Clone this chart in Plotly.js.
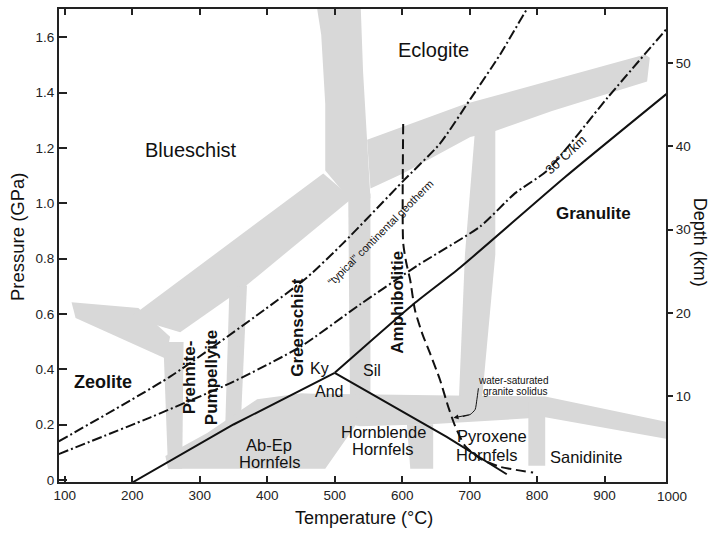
<!DOCTYPE html>
<html>
<head>
<meta charset="utf-8">
<script src="https://cdn.plot.ly/plotly-3.0.1.min.js"></script>
<style>html,body{margin:0;padding:0;background:#fff;}#chart{width:714px;height:534px;}</style>
</head>
<body>
<div id="chart"></div>
<script>
// ---- Axis ticks ----
const tempTicks = [100, 200, 300, 400, 500, 600, 700, 800, 900];
const pressureTicks = [0, 0.2, 0.4, 0.6, 0.8, 1.0, 1.2, 1.4, 1.6];
const pressureTickText = ['0', '0.2', '0.4', '0.6', '0.8', '1.0', '1.2', '1.4', '1.6'];
const depthTicks = [10, 20, 30, 40, 50];

// ---- Gray facies-boundary bands: outlines in T (°C) and P (GPa) ----
const bandZeoliteArmT = [110, 209, 256, 250, 116];
const bandZeoliteArmP = [0.642, 0.621, 0.517, 0.438, 0.585];
const bandZeoliteStemT = [246, 276, 274, 253];
const bandZeoliteStemP = [0.498, 0.498, 0.040, 0.040];
const bandBlueschistT = [197, 483, 526, 369, 345, 271];
const bandBlueschistP = [0.588, 1.108, 1.018, 0.703, 0.660, 0.534];
const bandPrehniteT = [344, 370, 361, 338];
const bandPrehniteP = [0.696, 0.703, 0.212, 0.212];
const bandEclogiteVT = [471, 538, 542, 548, 553, 523, 486, 486, 480];
const bandEclogiteVP = [1.75, 1.75, 1.478, 1.234, 1.018, 1.011, 1.119, 1.359, 1.610];
const bandGreenschistT = [520, 553, 553, 523];
const bandGreenschistP = [1.036, 1.036, 0.201, 0.201];
const bandEclogiteDT = [548, 693, 960, 967, 963, 822, 738, 701, 601, 553];
const bandEclogiteDP = [1.230, 1.359, 1.538, 1.527, 1.441, 1.334, 1.262, 1.240, 1.108, 1.054];
const bandAmphiboliteT = [708, 738, 738, 716, 683, 693];
const bandAmphiboliteP = [1.266, 1.266, 0.814, 0.230, 0.230, 0.814];
const bandHornfelsHT = [449, 812, 995, 995, 812, 641, 538, 449];
const bandHornfelsHP = [0.312, 0.301, 0.208, 0.147, 0.226, 0.201, 0.194, 0.230];
const bandHornfelsDT = [249, 311, 385, 449, 538, 530, 486, 253];
const bandHornfelsDP = [0.086, 0.169, 0.291, 0.312, 0.301, 0.194, 0.040, 0.040];
const bandHornblendeT = [607, 646, 646, 612];
const bandHornblendeP = [0.201, 0.201, 0.040, 0.040];
const bandSanidiniteT = [787, 812, 812, 787];
const bandSanidiniteP = [0.284, 0.284, 0.051, 0.051];

// ---- Reaction / facies lines ----
const abEpLineT = [200, 350, 500];
const abEpLineP = [-0.01, 0.200, 0.387];
const kySilT = [500, 538, 617, 686, 842, 1000];
const kySilP = [0.387, 0.469, 0.636, 0.768, 1.096, 1.412];
const andSilT = [500, 666, 755];
const andSilP = [0.387, 0.155, 0.020];

// "typical" continental geotherm
const geothermT = [91, 256, 397, 459, 513, 602, 656, 701, 745, 784, 790];
const geothermP = [0.139, 0.373, 0.617, 0.732, 0.857, 1.082, 1.216, 1.377, 1.538, 1.699, 1.72];
// 30 °C/km geotherm
const grad30T = [91, 227, 350, 449, 538, 622, 716, 767, 815, 905, 995];
const grad30P = [0.093, 0.226, 0.355, 0.481, 0.635, 0.774, 0.917, 1.036, 1.119, 1.384, 1.64];
// water-saturated granite solidus
const solidusT = [601.5, 601.5, 606, 612, 619, 630, 641.5, 656, 668, 678.5, 693, 716, 745, 794];
const solidusP = [1.287, 0.857, 0.786, 0.721, 0.613, 0.527, 0.456, 0.362, 0.266, 0.194, 0.123, 0.076, 0.047, 0.026];
// label leader
const leaderT = [713, 710.7, 708.1, 700.7, 690];
const leaderP = [0.331, 0.290, 0.254, 0.236, 0.229];

const GRAY = '#d8d8d8';
const INK = '#111111';
const FONT = 'Liberation Sans, Arial, Helvetica, sans-serif';

function band(t, p) {
  return {x: t, y: p, type: 'scatter', mode: 'lines', fill: 'toself',
          fillcolor: GRAY, line: {width: 0, color: GRAY}, hoverinfo: 'skip', showlegend: false};
}
function line(t, p, dash, w, shape) {
  return {x: t, y: p, type: 'scatter', mode: 'lines', hoverinfo: 'skip', showlegend: false,
          line: {color: INK, width: w, dash: dash, shape: shape || 'linear', smoothing: 0.6}};
}

const traces = [
  band(bandZeoliteArmT, bandZeoliteArmP),
  band(bandZeoliteStemT, bandZeoliteStemP),
  band(bandBlueschistT, bandBlueschistP),
  band(bandPrehniteT, bandPrehniteP),
  band(bandEclogiteVT, bandEclogiteVP),
  band(bandGreenschistT, bandGreenschistP),
  band(bandEclogiteDT, bandEclogiteDP),
  band(bandAmphiboliteT, bandAmphiboliteP),
  band(bandHornfelsHT, bandHornfelsHP),
  band(bandHornfelsDT, bandHornfelsDP),
  band(bandHornblendeT, bandHornblendeP),
  band(bandSanidiniteT, bandSanidiniteP),
  line(abEpLineT, abEpLineP, 'solid', 2),
  line(kySilT, kySilP, 'solid', 2, 'spline'),
  line(andSilT, andSilP, 'solid', 2),
  line(geothermT, geothermP, '10px,3px,2px,3px', 2, 'spline'),
  line(grad30T, grad30P, '10px,3px,2px,3px', 2, 'spline'),
  line(solidusT, solidusP, '10px,5px', 2, 'spline'),
  line(leaderT, leaderP, 'solid', 1, 'spline'),
  {x: [null], y: [null], yaxis: 'y2', type: 'scatter', mode: 'lines', showlegend: false, hoverinfo: 'skip'}
];

function lab(text, x, y, size, bold, angle) {
  return {text: bold ? '<b>' + text + '</b>' : text, x: x, y: y, xref: 'x', yref: 'y',
          xanchor: 'center', yanchor: 'middle',
          showarrow: false, textangle: angle || 0,
          font: {family: FONT, size: size, color: INK}};
}
function paperText(text, x, y, size, angle, extra) {
  return Object.assign({text: text, xref: 'paper', yref: 'paper', x: x, y: y,
          xanchor: 'center', yanchor: 'middle', textangle: angle || 0, showarrow: false,
          font: {family: FONT, size: size, color: INK}}, extra || {});
}

const annotations = [
  lab('Eclogite', 647, 1.556, 20),
  lab('Blueschist', 287, 1.194, 20),
  lab('Granulite', 883, 0.962, 17, true),
  lab('Zeolite', 157, 0.353, 18, true),
  lab('Prehnite-<br>Pumpellyite', 301, 0.369, 17, true, -90),
  lab('Greenschist', 445, 0.552, 17, true, -90),
  lab('Amphibolitie', 593, 0.642, 17, true, -90),
  lab('Ky', 477, 0.402, 16),
  lab('And', 492, 0.319, 16),
  lab('Sil', 556, 0.395, 16),
  lab('Ab-Ep', 403, 0.126, 16.5),
  lab('Hornfels', 403, 0.063, 16.5),
  lab('Hornblende', 572.6, 0.174, 16.5),
  lab('Hornfels', 571, 0.110, 16.5),
  lab('Pyroxene', 733, 0.158, 16.5),
  lab('Hornfels', 725.5, 0.088, 16.5),
  lab('Sanidinite', 872.6, 0.081, 16.5),
  lab('water-saturated', 763.7, 0.360, 10),
  lab('granite solidus', 767.4, 0.318, 10),
  lab('\u201ctypical\u201d continental geotherm', 567, 0.894, 11, false, -45),
  lab('30\u00b0C/km', 843, 1.175, 13, false, -43),
  {x: 676, y: 0.224, ax: 700.7, ay: 0.236, xref: 'x', yref: 'y', axref: 'x', ayref: 'y',
   text: '', showarrow: true, arrowhead: 2, arrowsize: 1, arrowwidth: 1, arrowcolor: INK},
  // axis titles
  paperText('Temperature (\u00b0C)', 0.502, 0, 18, 0, {yshift: -36}),
  paperText('Pressure (GPa)', -0.0675, 0.518, 18.5, -90),
  paperText('Depth (km)', 1.055, 0.507, 18, 90),
  paperText('1000', 1.010, 0, 13.5, 0, {yanchor: 'top', yshift: -5, font: {family: FONT, size: 13.5, color: '#222'}})
];

const axisCommon = {showgrid: false, zeroline: false, showline: true, linewidth: 2, linecolor: '#222',
                    tickcolor: '#222', tickwidth: 2, tickfont: {family: FONT, size: 13.5, color: '#222'}};

const layout = {
  width: 714, height: 534,
  margin: {l: 59, r: 48, t: 9, b: 52, pad: 0},
  paper_bgcolor: '#ffffff', plot_bgcolor: '#ffffff',
  showlegend: false,
  font: {family: FONT, color: INK},
  xaxis: Object.assign({}, axisCommon, {range: [91.4, 991], tickvals: tempTicks, ticks: 'inside',
          ticklen: 6, mirror: 'ticks'}),
  yaxis: Object.assign({}, axisCommon, {range: [-0.008, 1.703], tickvals: pressureTicks,
          ticktext: pressureTickText, ticks: 'inside', ticklen: 8, mirror: false}),
  yaxis2: Object.assign({}, axisCommon, {range: [-0.35, 56.53], tickvals: depthTicks, overlaying: 'y',
          side: 'right', ticks: 'outside', ticklen: 5}),
  annotations: annotations
};

Plotly.newPlot('chart', traces, layout, {displayModeBar: false, staticPlot: true});
</script>
</body>
</html>
